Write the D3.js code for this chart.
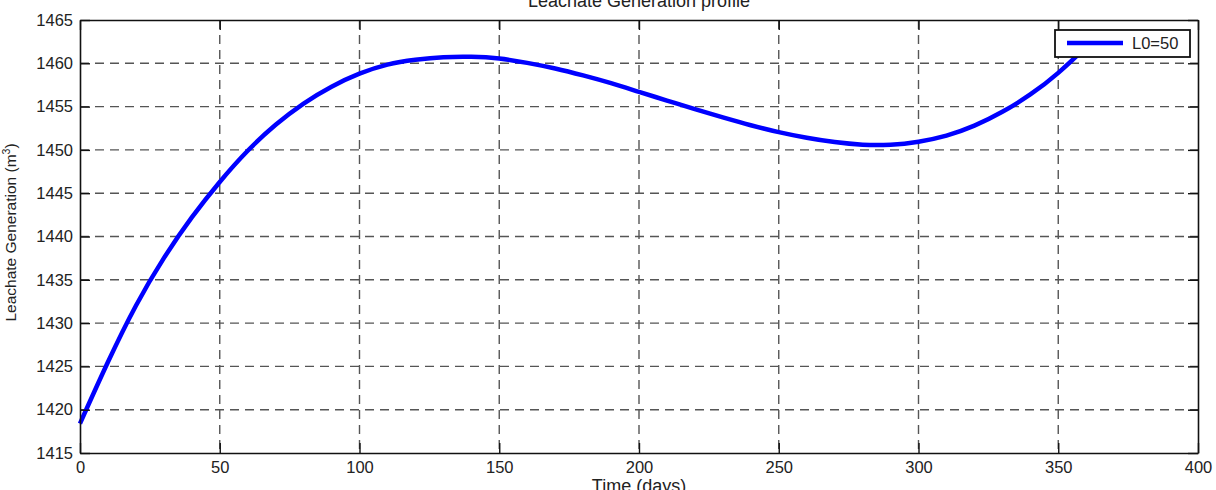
<!DOCTYPE html>
<html>
<head>
<meta charset="utf-8">
<script src="https://cdn.jsdelivr.net/npm/d3@7"></script>
<style>
  body { margin: 0; background: #fff; }
  svg { display: block; font-family: "Liberation Sans", Arial, sans-serif; }
</style>
</head>
<body>
<div id="chart"></div>
<script>
// Data
const days = [0, 10, 20, 30, 40, 50, 60, 70, 80, 90, 100, 110, 120, 130, 140, 150,
  160, 170, 180, 190, 200, 210, 220, 230, 240, 250, 260, 270, 280, 290, 300,
  310, 320, 330, 340, 350, 360, 365];
const leachate = [1418.4, 1425.5, 1432.0, 1437.5, 1442.2, 1446.3, 1449.9, 1452.9,
  1455.35, 1457.3, 1458.8, 1459.85, 1460.4, 1460.7, 1460.75, 1460.55, 1460.05,
  1459.4, 1458.6, 1457.7, 1456.7, 1455.7, 1454.7, 1453.75, 1452.85, 1452.05,
  1451.4, 1450.9, 1450.6, 1450.6, 1450.95, 1451.65, 1452.8, 1454.4, 1456.4,
  1458.9, 1461.9, 1463.5];
const xTicks = [0, 50, 100, 150, 200, 250, 300, 350, 400];
const yTicks = [1415, 1420, 1425, 1430, 1435, 1440, 1445, 1450, 1455, 1460, 1465];
const seriesName = "L0=50";

const W = 1216, H = 490;
const margin = { top: 20, right: 18, bottom: 37, left: 80 };
const width = W - margin.left - margin.right;
const height = H - margin.top - margin.bottom;

const x = d3.scaleLinear().domain([0, 400]).range([0, width]);
const y = d3.scaleLinear().domain([1415, 1465]).range([height, 0]);

const svg = d3.select("#chart").append("svg")
  .attr("width", W).attr("height", H);

const g = svg.append("g")
  .attr("transform", `translate(${margin.left},${margin.top})`);

// Grid (dashed)
g.append("g").selectAll("line")
  .data(xTicks.slice(1, -1))
  .join("line")
  .attr("x1", d => x(d)).attr("x2", d => x(d))
  .attr("y1", 0).attr("y2", height)
  .attr("stroke", "#555").attr("stroke-width", 1.4)
  .attr("stroke-dasharray", "9,6");

g.append("g").selectAll("line")
  .data(yTicks.slice(1, -1))
  .join("line")
  .attr("x1", 0).attr("x2", width)
  .attr("y1", d => y(d)).attr("y2", d => y(d))
  .attr("stroke", "#555").attr("stroke-width", 1.4)
  .attr("stroke-dasharray", "9,6");

// Curve
const pts = days.map((d, i) => ({ t: d, v: leachate[i] }));
const line = d3.line()
  .x(d => x(d.t))
  .y(d => y(d.v))
  .curve(d3.curveNatural);

g.append("path")
  .datum(pts)
  .attr("fill", "none")
  .attr("stroke", "#0000ff")
  .attr("stroke-width", 4.5)
  .attr("stroke-linejoin", "round")
  .attr("d", line);

// Axes (MATLAB style box with inward ticks)
const tickLen = 10;
const fontTick = "16.5px";
const fmt = d3.format("d");

const xAxis = g.append("g")
  .attr("transform", `translate(0,${height})`)
  .call(d3.axisBottom(x).tickValues(xTicks).tickFormat(fmt).tickSizeInner(-tickLen).tickSizeOuter(0).tickPadding(8));
const yAxis = g.append("g")
  .call(d3.axisLeft(y).tickValues(yTicks).tickFormat(fmt).tickSizeInner(-tickLen).tickSizeOuter(0).tickPadding(7));
const xTop = g.append("g")
  .call(d3.axisTop(x).tickValues(xTicks).tickSizeInner(-tickLen).tickSizeOuter(0).tickFormat(""));
const yRight = g.append("g")
  .attr("transform", `translate(${width},0)`)
  .call(d3.axisRight(y).tickValues(yTicks).tickSizeInner(-tickLen).tickSizeOuter(0).tickFormat(""));

[xAxis, yAxis, xTop, yRight].forEach(a => {
  a.select(".domain").attr("stroke", "#111").attr("stroke-width", 1.6);
  a.selectAll(".tick line").attr("stroke", "#111").attr("stroke-width", 1.4);
  a.selectAll("text")
    .style("font-size", fontTick)
    .style("font-family", "'Liberation Sans', Arial, sans-serif")
    .attr("fill", "#222");
});

// Title
svg.append("text")
  .attr("x", margin.left + width / 2)
  .attr("y", 7)
  .attr("text-anchor", "middle")
  .style("font-size", "18px")
  .attr("fill", "#222")
  .text("Leachate Generation profile");

// X label
svg.append("text")
  .attr("x", margin.left + width / 2)
  .attr("y", 492)
  .attr("text-anchor", "middle")
  .style("font-size", "18px")
  .attr("fill", "#222")
  .text("Time (days)");

// Y label
const yl = svg.append("text")
  .attr("transform", `translate(16,${margin.top + height / 2 - 4}) rotate(-90)`)
  .attr("text-anchor", "middle")
  .style("font-size", "15.5px")
  .attr("fill", "#222");
yl.append("tspan").text("Leachate Generation (m");
yl.append("tspan").attr("dy", -6).style("font-size", "10.5px").text("3");
yl.append("tspan").attr("dy", 6).text(")");

// Legend
const legend = svg.append("g").attr("transform", "translate(1055,30)");
legend.append("rect")
  .attr("width", 135).attr("height", 27)
  .attr("fill", "#fff").attr("stroke", "#111").attr("stroke-width", 1.8);
legend.append("line")
  .attr("x1", 12).attr("x2", 68).attr("y1", 13).attr("y2", 13)
  .attr("stroke", "#0000ff").attr("stroke-width", 4.5);
legend.append("text")
  .attr("x", 77).attr("y", 19)
  .style("font-size", "16.5px")
  .attr("fill", "#222")
  .text(seriesName);
</script>
</body>
</html>
